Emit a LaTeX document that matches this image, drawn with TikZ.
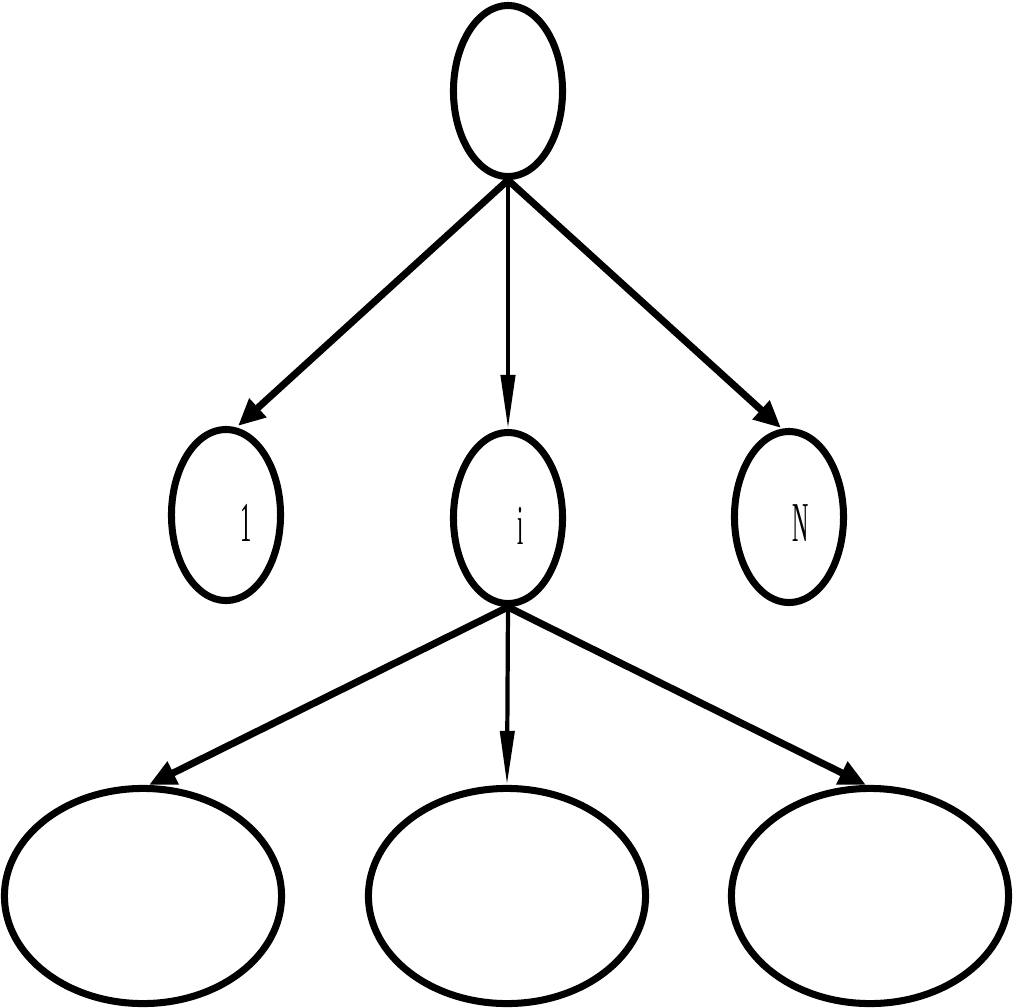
\documentclass[tikz,border=0pt]{standalone}
\usepackage{fontspec}
\newfontfamily\labfont{Liberation Serif}
\usetikzlibrary{arrows.meta,shapes.geometric}

\begin{document}
\begin{tikzpicture}[x=0.01cm, y=-0.01cm, line width=2pt,
  tall/.style={draw, ellipse, inner sep=0pt, minimum width=1.09cm, minimum height=1.71cm},
  wide/.style={draw, ellipse, inner sep=0pt, minimum width=2.77cm, minimum height=2.15cm},
  lab/.style={font=\labfont\fontsize{16}{16}\selectfont, xscale=0.4, inner sep=0pt},
  thick arrow/.style={-{Triangle[length=0.27cm, width=0.24cm]}, line width=2pt},
  thin arrow/.style={-{Triangle[length=0.54cm, width=0.14cm]}, line width=1.2pt}]
\useasboundingbox (0,0) rectangle (1017,1008);
% root
\node[tall] (root) at (508,91) {};
% middle row
\node[tall] (n1) at (226,515) {};
\node[tall] (ni) at (508,518) {};
\node[tall] (nN) at (789,517) {};
\node[lab] (t1) at (246,523) {1};
\node[lab] (ti) at (521,526) {i};
\node[lab] (tN) at (801,523) {N};
% bottom row
\node[wide] (b1) at (143,896) {};
\node[wide] (b2) at (507,896) {};
\node[wide] (b3) at (870,896) {};
% arrows
\draw[thick arrow] (root.south) -- ([xshift=0.12cm]n1.north);
\draw[thin arrow] (root.south) -- (ni.north);
\draw[thick arrow] (root.south) -- ([xshift=-0.08cm]nN.north);
\draw[thick arrow] (ni.south) -- ([xshift=0.06cm]b1.north);
\draw[thin arrow] (ni.south) -- (b2.north);
\draw[thick arrow] (ni.south) -- ([xshift=-0.04cm]b3.north);
\end{tikzpicture}
\end{document}
